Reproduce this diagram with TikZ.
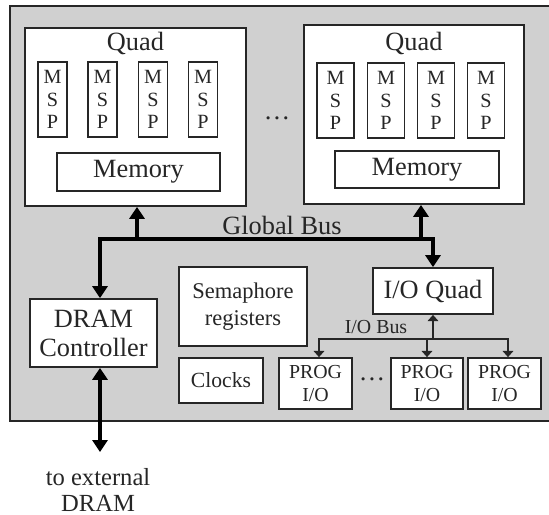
\documentclass[tikz,border=0pt]{standalone}
\usepackage{fontspec}
\setmainfont{Liberation Serif}
\usepackage{tikz}
\usetikzlibrary{arrows.meta, positioning, calc}
\definecolor{cChip}{HTML}{D0D0D0}
\definecolor{cLine}{HTML}{262626}

\begin{document}
\begin{tikzpicture}[
    x=0.02cm, y=-0.02cm,
    box/.style={draw=cLine, line width=1pt, fill=white, inner sep=0pt, align=center, text=cLine},
    msp/.style={box, minimum height=75*0.02cm, font=\fontsize{11.5}{13}\selectfont},
    bus/.style={line width=2.3pt, draw=black, {Triangle[length=6.8pt,width=8.5pt]}-{Triangle[length=6.8pt,width=8.5pt]}},
    upbus/.style={line width=2.3pt, draw=black, -{Triangle[length=6.8pt,width=8.5pt]}},
    iobus/.style={line width=0.9pt, draw=cLine, {Triangle[length=3.5pt,width=6pt]}-{Triangle[length=3.5pt,width=6pt]}},
    upio/.style={line width=0.9pt, draw=cLine, -{Triangle[length=3.5pt,width=6pt]}},
    big/.style={font=\fontsize{15}{16.5}\selectfont, text=cLine},
]
\useasboundingbox (0,0) rectangle (549,515);

% ---------- Chip outline ----------
\fill[cChip] (10,6) rectangle (565,421);
\draw[cLine, line width=1.6pt] (565,6) -- (10,6) -- (10,421) -- (565,421);

% ---------- Quads ----------
\node[box, minimum width=221*0.02cm, minimum height=178*0.02cm] (q1) at (135.5,117) {};
\node[big] (q1lab) at ($(q1.north)+(0,16)$) {Quad};
\foreach \i/\xc in {1/52.5,2/102.5,3/153,4/203}{
  \node[msp, minimum width=29*0.02cm] (m1\i) at (\xc,99.5) {M\\S\\P};
}
\node[box, big, minimum width=163*0.02cm, minimum height=38*0.02cm] (mem1) at (138.5,172) {Memory};

\node[box, minimum width=220*0.02cm, minimum height=179*0.02cm] (q2) at (414,114.5) {};
\node[big] (q2lab) at ($(q2.north)+(0,19)$) {Quad};
\foreach \i/\xc in {1/335.5,2/386,3/436,4/486}{
  \node[msp, minimum width=37*0.02cm] (m2\i) at (\xc,100.5) {M\\S\\P};
}
\node[box, big, minimum width=164*0.02cm, minimum height=37*0.02cm] (mem2) at (417,169.5) {Memory};

\node[big] (qdots) at (277,118) {\ldots};

% ---------- Lower blocks ----------
\node[box, big, minimum width=127*0.02cm, minimum height=68*0.02cm] (dram) at (93.5,333) {DRAM\\Controller};
\node[box, font=\fontsize{12.8}{15}\selectfont, minimum width=128*0.02cm, minimum height=79*0.02cm] (sem) at (243,306.5) {Semaphore\\registers};
\node[box, font=\fontsize{12.3}{14}\selectfont, minimum width=84*0.02cm, minimum height=45*0.02cm] (clk) at (221,380.5) {Clocks};
\node[box, big, minimum width=120*0.02cm, minimum height=46*0.02cm] (ioq) at (433,291) {I/O Quad};

\foreach \i/\xc/\w in {1/315.5/73,2/427/72,3/504.5/73}{
  \node[box, font=\fontsize{11.3}{13}\selectfont, minimum width=\w*0.02cm, minimum height=51*0.02cm] (p\i) at (\xc,383.5) {PROG\\I/O};
}
\node[big] (pdots) at (372,379) {\ldots};

% ---------- Global bus ----------
\coordinate (busL) at (100,239);
\coordinate (busR) at (433,239);
\coordinate (t1) at (137,239);
\coordinate (t2) at (421,239);
\draw[bus] (busL |- dram.north) -- (busL) -- (busR) -- (busR |- ioq.north);
\draw[upbus] (t1) -- (t1 |- q1.south);
\draw[upbus] (t2) -- (t2 |- q2.south);
\node[big] (gbus) at (282,225) {Global Bus};

% ---------- External DRAM link ----------
\coordinate (ext) at (100,452);
\draw[bus] (dram.south -| ext) -- (ext);
\node[font=\fontsize{14}{15}\selectfont, text=cLine, align=center] (extlab) at (98,490) {to external\\DRAM};

% ---------- I/O bus ----------
\coordinate (iobL) at (319,339);
\coordinate (iobR) at (508,339);
\draw[iobus] (iobL |- p1.north) -- (iobL) -- (iobR) -- (iobR |- p3.north);
\draw[upio] (p2.north |- iobL) -- (p2.north);
\draw[upio] (ioq.south |- iobL) -- (ioq.south);
\node[font=\fontsize{11.3}{13}\selectfont, text=cLine] (iolab) at (376,327) {I/O Bus};

\end{tikzpicture}
\end{document}
